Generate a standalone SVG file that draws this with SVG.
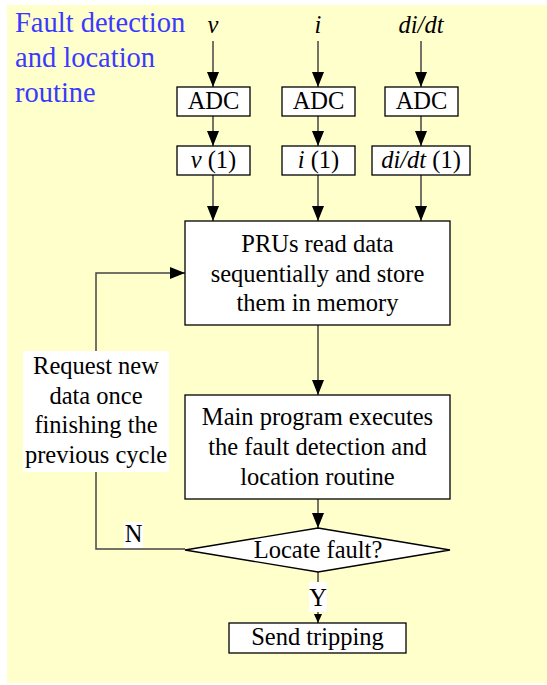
<svg xmlns="http://www.w3.org/2000/svg" width="547" height="685" viewBox="0 0 547 685">
<defs>
<style>
.bg{fill:#FFFFCC}
.box{fill:#fff;stroke:#000;stroke-width:1.3}
.t{font-family:"Liberation Serif","Times New Roman",serif;font-size:24.5px;fill:#000;text-anchor:middle}
.it{font-style:italic}
.title{font-family:"Liberation Serif","Times New Roman",serif;font-size:28.5px;fill:#3a3aff}
.c{fill:none;stroke:#444;stroke-width:1.5}
.lbl{fill:#fff}
</style>
<marker id="ah" viewBox="0 0 15 12" markerWidth="15" markerHeight="12" refX="15" refY="6" orient="auto" markerUnits="userSpaceOnUse"><path d="M0,0 L15,6 L0,12 z" fill="#000"/></marker>
<marker id="ahs" viewBox="0 0 9 8" markerWidth="9" markerHeight="8" refX="9" refY="4" orient="auto" markerUnits="userSpaceOnUse"><path d="M0,0 L9,4 L0,8 z" fill="#000"/></marker>
</defs>
<rect class="bg" x="7" y="5" width="540" height="678"/>
<g id="title">
<text class="title" x="15" y="32">Fault detection</text>
<text class="title" x="15" y="67">and location</text>
<text class="title" x="15" y="102">routine</text>
</g>
<g id="inputs">
<text class="t it" x="213" y="33">v</text>
<text class="t it" x="318" y="33">i</text>
<text class="t it" x="421" y="33">di/dt</text>
</g>
<g id="connectors">
<line class="c" x1="213" y1="41" x2="213" y2="87" marker-end="url(#ah)"/>
<line class="c" x1="318" y1="41" x2="318" y2="87" marker-end="url(#ah)"/>
<line class="c" x1="421" y1="41" x2="421" y2="87" marker-end="url(#ah)"/>
<line class="c" x1="213" y1="116" x2="213" y2="146" marker-end="url(#ah)"/>
<line class="c" x1="318" y1="116" x2="318" y2="146" marker-end="url(#ah)"/>
<line class="c" x1="421" y1="116" x2="421" y2="146" marker-end="url(#ah)"/>
<line class="c" x1="213" y1="175" x2="213" y2="221" marker-end="url(#ah)"/>
<line class="c" x1="318" y1="175" x2="318" y2="221" marker-end="url(#ah)"/>
<line class="c" x1="421" y1="175" x2="421" y2="221" marker-end="url(#ah)"/>
<line class="c" x1="318" y1="325" x2="318" y2="395" marker-end="url(#ah)"/>
<line class="c" x1="318" y1="499" x2="318" y2="528" marker-end="url(#ah)"/>
<line class="c" x1="318" y1="572" x2="318" y2="623" marker-end="url(#ahs)"/>
<polyline class="c" points="185,549 96,549 96,273 185,273" marker-end="url(#ah)"/>
</g>
<g id="adc-v"><rect class="box" x="177" y="87" width="73" height="29"/><text class="t" x="213.5" y="109">ADC</text></g>
<g id="adc-i"><rect class="box" x="282" y="87" width="73" height="29"/><text class="t" x="318.5" y="109">ADC</text></g>
<g id="adc-di"><rect class="box" x="385" y="87" width="73" height="29"/><text class="t" x="421.5" y="109">ADC</text></g>
<g id="v1"><rect class="box" x="177" y="146" width="73" height="29"/><text class="t" x="213.5" y="168"><tspan class="it">v</tspan> (1)</text></g>
<g id="i1"><rect class="box" x="282" y="146" width="73" height="29"/><text class="t" x="318.5" y="168"><tspan class="it">i</tspan> (1)</text></g>
<g id="di1"><rect class="box" x="372" y="146" width="98" height="29"/><text class="t" x="421" y="168"><tspan class="it">di/dt</tspan> (1)</text></g>
<g id="prus"><rect class="box" x="185" y="221" width="265" height="104"/>
<text class="t" x="317.5" y="252">PRUs read data</text>
<text class="t" x="317.5" y="282">sequentially and store</text>
<text class="t" x="317.5" y="311">them in memory</text></g>
<g id="main"><rect class="box" x="185" y="395" width="265" height="104"/>
<text class="t" x="317.5" y="425">Main program executes</text>
<text class="t" x="317.5" y="455">the fault detection and</text>
<text class="t" x="317.5" y="485">location routine</text></g>
<g id="decision"><polygon class="box" points="318,528 450,550 318,572 185,550"/>
<text class="t" x="318" y="558">Locate fault?</text></g>
<g id="trip"><rect class="box" x="229" y="623" width="177" height="30"/>
<text class="t" x="317.5" y="645">Send tripping</text></g>
<g id="request-label"><rect class="lbl" x="23" y="351" width="146" height="121"/>
<text class="t" x="96" y="374">Request new</text>
<text class="t" x="96" y="404">data once</text>
<text class="t" x="96" y="433">finishing the</text>
<text class="t" x="96" y="463">previous cycle</text></g>
<g id="n-label"><rect class="lbl" x="124" y="522" width="19" height="26"/><text class="t" x="133.5" y="542">N</text></g>
<g id="y-label"><rect class="lbl" x="309" y="582" width="18" height="30"/><text class="t" x="318" y="606">Y</text></g>
</svg>
